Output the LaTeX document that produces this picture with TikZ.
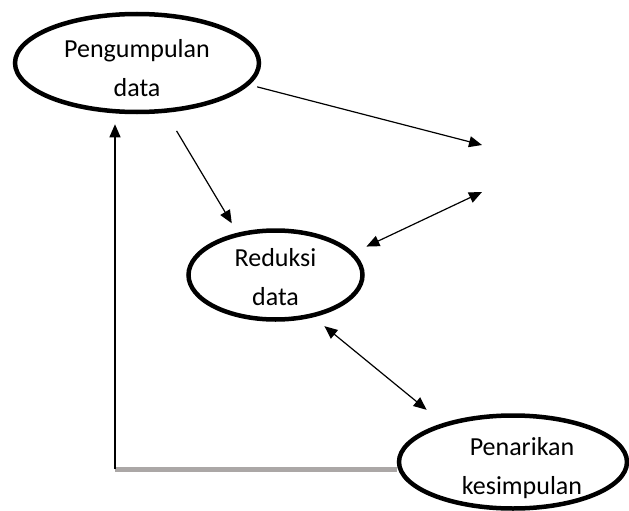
\documentclass[tikz,border=0pt]{standalone}
\usepackage{fontspec}
\setmainfont{Carlito}
\usepackage{tikz}
\usetikzlibrary{shapes,arrows.meta,calc}
\definecolor{fbgray}{RGB}{171,167,166}

\begin{document}
\begin{tikzpicture}[x=1pt,y=-1pt,
myellipse/.style={draw=black, line width=4.5pt, shape=ellipse, inner sep=0pt},
mytext/.style={align=center, inner sep=0pt, font=\fontsize{26}{39}\selectfont},
myarrow/.style={line width=1.2pt, -{Triangle[length=13pt,width=11pt]}},
mydouble/.style={line width=1.2pt, {Triangle[length=13pt,width=11pt]}-{Triangle[length=13pt,width=11pt]}}]
\useasboundingbox (0,0) rectangle (629,511);
\node[myellipse, minimum width=244pt, minimum height=98pt,
  label={[mytext, yshift=-5pt]center:Pengumpulan\\data}] (peng) at (137,63) {};
\node[myellipse, minimum width=174pt, minimum height=89pt,
  label={[mytext, yshift=-2pt]center:Reduksi\\data}] (red) at (275.5,275) {};
\node[myellipse, minimum width=228pt, minimum height=93pt,
  label={[mytext, xshift=9pt, yshift=-6pt]center:Penarikan\\kesimpulan}] (pen) at (513,462) {};
\coordinate (pen1) at (482,145);
\coordinate (pen2) at (482,192);
\coordinate (corner) at (115,469);
\draw[myarrow, shorten <=8pt] (peng.-11) -- (pen1);
\draw[myarrow, shorten <=21pt, shorten >=11pt] (peng.-60) -- (red.132);
\draw[mydouble, shorten <=14pt] (red.16) -- (pen2);
\draw[mydouble, shorten <=14pt, shorten >=21pt] (red.-48) -- (pen.151);
% umpan balik
\draw[fbgray, line width=5pt] (pen.west |- corner) -- (corner);
\draw[myarrow, shorten >=10pt] (corner) -- (corner |- peng.south);
\end{tikzpicture}
\end{document}
